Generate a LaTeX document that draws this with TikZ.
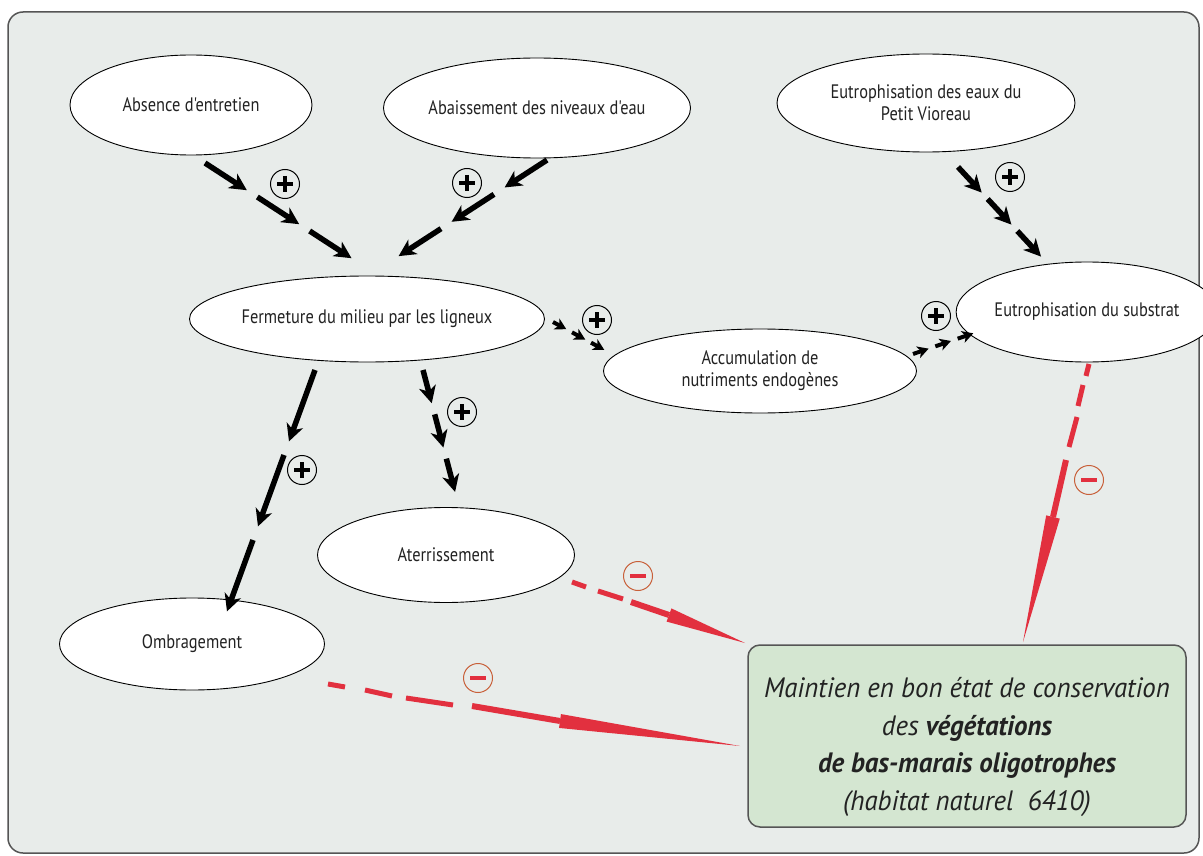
\documentclass[tikz,border=0pt]{standalone}
\usepackage{fontspec}
\setmainfont{PT Sans}
\newfontfamily\ellfont[FakeStretch=0.84]{PT Sans}
\newfontfamily\boxfont[FakeStretch=0.96]{PT Sans}
\usetikzlibrary{shapes.geometric,arrows.meta,calc}
\definecolor{bgc}{HTML}{E8ECEA}
\definecolor{framec}{HTML}{555555}
\definecolor{redc}{HTML}{E2303F}
\definecolor{minc}{HTML}{C8603A}
\definecolor{boxc}{HTML}{D4E6D1}
\definecolor{txtc}{HTML}{222222}
\tikzset{
  ell/.style={ellipse,draw=black,fill=white,line width=0.9pt,inner sep=0pt,align=center,
    text=txtc,font=\ellfont\fontsize{19.5}{22}\selectfont},
  blk/.style={line width=5.5pt,-{Stealth[length=17pt,width=17pt,inset=5pt]}},
  blksm/.style={line width=4pt,-{Stealth[length=11pt,width=12pt,inset=3pt]}},
  reddash/.style={line width=5pt,redc},
  redshaft/.style={line width=6pt,redc},
  plusc/.style={circle,draw=black,line width=1pt,minimum size=29pt,inner sep=0pt},
  minusc/.style={circle,draw=minc,line width=1pt,minimum size=29pt,inner sep=0pt},
}
\newcommand\arrowrun[5]{%
  \foreach \k in {1,...,#4}{%
    \draw[#1] ($(#2)!{(\k-1)/#4}!(#3)$) -- ($(#2)!{(\k-1+#5)/#4}!(#3)$);}}
\newcommand\plussign[1]{%
  \draw[line width=3.2pt] ($(#1.center)+(-8,0)$) -- ($(#1.center)+(8,0)$);
  \draw[line width=3.2pt] ($(#1.center)+(0,-8)$) -- ($(#1.center)+(0,8)$);}
\newcommand\minussign[1]{%
  \draw[line width=3.2pt,redc] ($(#1.center)+(-8,0)$) -- ($(#1.center)+(8,0)$);}
\newcommand\redhead[2]{%
  \fill[redc] ($(#1)!7pt!90:(#2)$) -- (#2) -- ($(#1)!7pt!-90:(#2)$) -- cycle;}
\begin{document}
\begin{tikzpicture}[x=1pt,y=-1pt]
\useasboundingbox (0,0) rectangle (1203,856);
\fill[white] (0,0) rectangle (1203,856);
\draw[framec,fill=bgc,line width=1.5pt,rounded corners=15pt] (8,12) rectangle (1199,853);

% nodes
\node[ell,minimum width=242pt,minimum height=100pt] (abs) at (191,105) {Absence d'entretien};
\node[ell,minimum width=266pt,minimum height=100pt] (aba) at (537,108) {Abaissement des niveaux d'eau};
\node[ell,minimum width=298pt,minimum height=98pt] (eut) at (926,103) {Eutrophisation des eaux du\\Petit Vioreau};
\node[ell,minimum width=355pt,minimum height=86pt] (ferm) at (367,319) {Fermeture du milieu par les ligneux};
\node[ell,minimum width=313pt,minimum height=84pt] (acc) at (760,371) {Accumulation de\\nutriments endogènes};
\node[ell,minimum width=224pt,minimum height=100pt] (sub) at (1087,312) {Eutrophisation du substrat};
\node[ell,minimum width=257pt,minimum height=95pt] (ater) at (446,555) {Aterrissement};
\node[ell,minimum width=265pt,minimum height=92pt] (omb) at (192,644) {Ombragement};
\draw[framec,fill=boxc,line width=1.5pt,rounded corners=12pt] (748,645) rectangle (1186,827);
\node[align=center,text=txtc,font=\boxfont\fontsize{28}{37.5}\selectfont\itshape] (box) at (967,747)
  {Maintien en bon état de conservation\\des \textbf{végétations}\\\textbf{de bas-marais oligotrophes}\\(habitat naturel\ \ 6410)};

% coordinates of connectors
\coordinate (a1s) at (205,163); \coordinate (a1e) at (362,265);
\coordinate (a2s) at (547,160); \coordinate (a2e) at (388,263);
\coordinate (a3s) at (958,167); \coordinate (a3e) at (1047,263);
\coordinate (a4s) at (553,322); \coordinate (a4e) at (610,353);
\coordinate (a5s) at (913,354); \coordinate (a5e) at (980,331);
\coordinate (a6s) at (315,370); \coordinate (a6e) at (222,625);
\coordinate (a7s) at (423,370); \coordinate (a7e) at (458,503);

\arrowrun{blk}{a1s}{a1e}{3}{0.8}
\arrowrun{blk}{a2s}{a2e}{3}{0.8}
\arrowrun{blk}{a3s}{a3e}{3}{0.8}
\arrowrun{blksm}{a4s}{a4e}{3}{0.7}
\arrowrun{blksm}{a5s}{a5e}{3}{0.7}
\arrowrun{blk}{a6s}{a6e}{3}{0.84}
\arrowrun{blk}{a7s}{a7e}{3}{0.75}

% plus signs
\node[plusc] (p1) at (285,184) {}; \plussign{p1}
\node[plusc] (p2) at (467,183) {}; \plussign{p2}
\node[plusc] (p3) at (1010,177) {}; \plussign{p3}
\node[plusc] (p4) at (597,320) {}; \plussign{p4}
\node[plusc] (p5) at (936,316) {}; \plussign{p5}
\node[plusc] (p6) at (302,470) {}; \plussign{p6}
\node[plusc] (p7) at (462,412) {}; \plussign{p7}

% red connectors
\coordinate (r1a) at (572,582); \coordinate (r1b) at (586,587);
\coordinate (r1c) at (598,591); \coordinate (r1d) at (623,599);
\coordinate (r1e) at (631,602); \coordinate (r1f) at (669,615); \coordinate (r1g) at (745,643);
\draw[reddash] (r1a) -- (r1b); \draw[reddash] (r1c) -- (r1d);
\draw[redshaft] (r1e) -- (r1f); \redhead{r1f}{r1g}
\coordinate (r2a) at (328,684); \coordinate (r2b) at (345,687);
\coordinate (r2c) at (365,690); \coordinate (r2d) at (392,696);
\coordinate (r2e) at (406,698); \coordinate (r2f) at (453,705);
\coordinate (r2g) at (472,706); \coordinate (r2h) at (560,721); \coordinate (r2i) at (740,746);
\draw[reddash] (r2a) -- (r2b); \draw[reddash] (r2c) -- (r2d); \draw[reddash] (r2e) -- (r2f);
\draw[redshaft] (r2g) -- (r2h); \redhead{r2h}{r2i}
\coordinate (r3a) at (1089,364); \coordinate (r3b) at (1086,376);
\coordinate (r3c) at (1083,385); \coordinate (r3d) at (1078,406);
\coordinate (r3e) at (1077,417); \coordinate (r3f) at (1069,447);
\coordinate (r3g) at (1066,460); \coordinate (r3h) at (1053,517); \coordinate (r3i) at (1023,642);
\draw[reddash] (r3a) -- (r3b); \draw[reddash] (r3c) -- (r3d); \draw[reddash] (r3e) -- (r3f);
\draw[redshaft] (r3g) -- (r3h); \redhead{r3h}{r3i}

% minus signs
\node[minusc] (m1) at (638,576) {}; \minussign{m1}
\node[minusc] (m2) at (478,678) {}; \minussign{m2}
\node[minusc] (m3) at (1089,480) {}; \minussign{m3}
\end{tikzpicture}
\end{document}
